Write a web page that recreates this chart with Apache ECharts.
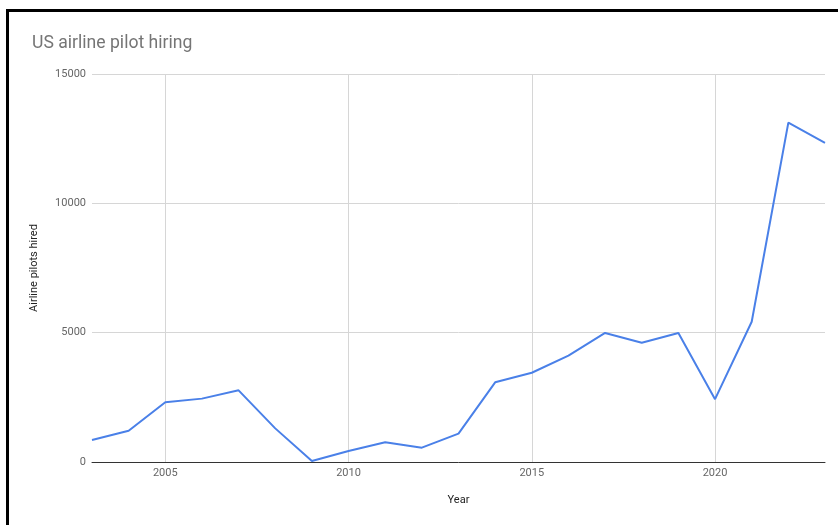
<!DOCTYPE html>
<html>
<head>
<meta charset="utf-8">
<script src="https://cdn.jsdelivr.net/npm/echarts@6/dist/echarts.min.js"></script>
<style>
html,body{margin:0;padding:0;background:#fff;}
#chart{width:838px;height:525px;}
</style>
</head>
<body>
<div id="chart"></div>
<script>
var years = [2003,2004,2005,2006,2007,2008,2009,2010,2011,2012,2013,2014,2015,2016,2017,2018,2019,2020,2021,2022,2023];
var hired = [850,1210,2310,2450,2770,1300,40,425,760,555,1095,3080,3450,4110,4990,4610,4990,2430,5420,13120,12340];
var xTicks = [2005,2010,2015,2020];
var yTicks = [0,5000,10000,15000];

var chart = echarts.init(document.getElementById('chart'));
var font = 'Roboto, Arial, sans-serif';
chart.setOption({
  animation: false,
  title: {
    text: 'US airline pilot hiring',
    left: 27, top: 30,
    textStyle: {fontFamily: font, fontSize: 17.6, fontWeight: 'normal', color: '#757575'}
  },
  grid: {left: 92, right: 13, top: 74, bottom: 63, containLabel: false},
  xAxis: {
    type: 'value', min: 2003, max: 2023,
    name: 'Year', nameLocation: 'middle', nameGap: 33,
    nameTextStyle: {fontFamily: font, fontSize: 11, color: '#222'},
    axisLine: {show: true, onZero: false, lineStyle: {color: '#333', width: 1}},
    axisTick: {show: false, customValues: xTicks},
    axisLabel: {customValues: xTicks, formatter: function(v){ return String(v); }, fontFamily: font, fontSize: 11, color: '#666', margin: 6},
    splitLine: {show: true, lineStyle: {color: '#d6d6d6', width: 1}}
  },
  yAxis: {
    type: 'value', min: 0, max: 15000, interval: 5000,
    name: 'Airline pilots hired', nameLocation: 'middle', nameGap: 52,
    nameTextStyle: {fontFamily: font, fontSize: 11, color: '#222'},
    axisLine: {show: false},
    axisTick: {show: false},
    axisLabel: {formatter: function(v){ return String(v); }, fontFamily: font, fontSize: 11, color: '#666', margin: 6},
    splitLine: {show: true, lineStyle: {color: '#d6d6d6', width: 1}}
  },
  series: [{
    type: 'line',
    data: years.map(function(y, i){ return [y, hired[i]]; }),
    showSymbol: false,
    lineStyle: {color: '#4a80e8', width: 2},
    itemStyle: {color: '#4a80e8'}
  }],
  graphic: [
    {type: 'line', shape: {x1: 7.5, y1: 10.5, x2: 7.5, y2: 525}, style: {stroke: '#000', lineWidth: 3}},
    {type: 'line', shape: {x1: 6, y1: 10.5, x2: 838, y2: 10.5}, style: {stroke: '#000', lineWidth: 3}}
  ]
});
</script>
</body>
</html>
